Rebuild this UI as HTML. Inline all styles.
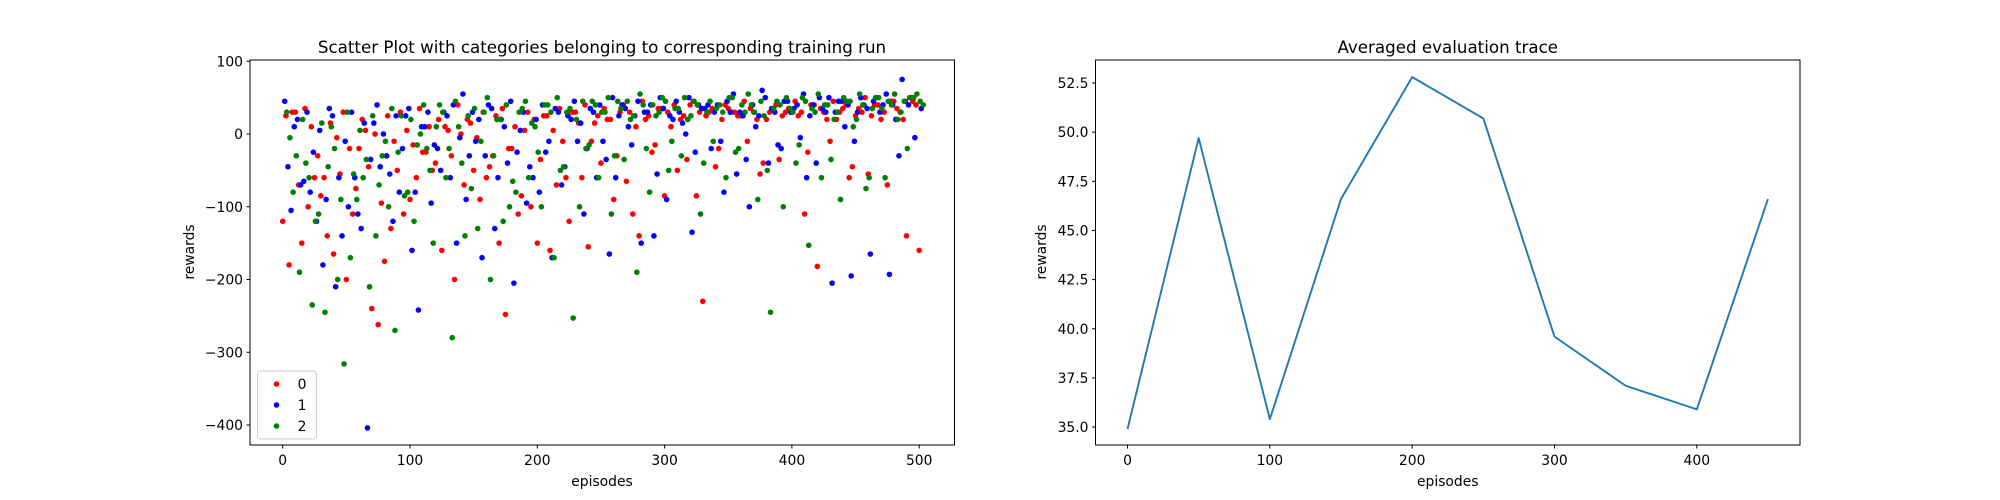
<!DOCTYPE html>
<html><head><meta charset="utf-8"><style>
body{margin:0;background:#fff;}
svg{display:block;font-family:"DejaVu Sans","Liberation Sans",sans-serif;}
</style></head><body>
<svg id="fig" width="2000" height="500" viewBox="0 0 2000 500">
<rect width="2000" height="500" fill="#fff"/>
<g id="left"></g>
<g id="right"></g>
</svg>
<script>
const redY=[-120,-180,30,-150,-100,-60,-85,-140,-165,-55,-200,-110,-20,5,-240,-262,-175,-130,-50,-110,-90,-60,-25,10,-40,-160,5,-200,0,20,-50,-90,-60,-30,-150,-248,-20,-110,5,-100,-150,25,-160,-70,-10,-120,30,-60,-155,15,-40,20,-90,30,-65,-110,-140,20,-25,35,-85,10,-50,25,40,-85,-230,30,-45,20,35,30,25,-10,30,-55,20,35,-35,30,30,25,-110,40,-182,30,-10,20,35,-60,25,30,-55,40,20,-70,45,30,-140,45,-160];
const blueY=[45,-105,20,-65,-80,-120,-180,35,-210,-140,-100,-60,-130,-404,15,-45,-30,-120,-80,25,-160,-242,10,-95,-20,30,-60,-150,55,-30,-10,-170,40,-130,20,-40,-205,5,-95,-60,-80,-25,-170,30,-45,20,-10,-110,35,-60,-10,-165,-60,40,10,25,-150,30,-140,50,-90,20,30,0,-135,40,35,-20,40,-80,30,-55,25,-100,10,60,-40,30,-20,45,35,-5,-60,40,50,30,-205,45,10,-195,30,40,-165,50,40,-193,20,75,40,-5,35];
const greenY=[30,-80,-190,-40,-235,-110,-245,10,-200,-316,-170,-90,-60,-210,-140,-30,-100,-270,25,-80,-120,0,-20,-150,40,-60,-280,10,-140,-75,-130,30,-200,20,-120,-100,-80,35,-60,10,-100,40,-170,-50,30,-253,-100,-20,45,-60,30,-110,45,-35,20,-190,40,-80,25,50,-50,35,-30,20,45,-110,30,-10,40,-60,50,-20,30,40,-90,25,-245,45,-100,35,-40,50,-153,30,-60,40,20,-90,45,10,55,-75,35,50,-60,40,20,45,50,55,40];
const redY2=[25,30,-70,35,10,-30,-60,15,-5,30,-20,-75,20,-45,0,-95,25,-10,30,5,-15,35,-25,-50,20,10,-30,40,-70,15,-5,30,-45,25,35,-20,10,-85,30,20,-35,25,5,35,-60,30,15,40,-10,25,35,20,-30,40,30,10,45,25,-15,35,30,40,20,-35,45,30,25,35,-20,40,30,25,45,35,20,-40,30,40,25,35,45,30,-25,40,35,20,45,30,40,-45,35,50,25,40,30,45,35,20,50,40];
const blueY2=[-45,10,-70,30,-25,5,-90,25,-60,-10,30,-110,15,-35,40,0,-55,25,-20,35,-80,10,30,-15,-50,25,40,-5,-90,30,20,-30,35,-60,10,45,-25,30,-45,20,40,-10,35,-70,25,45,15,-20,30,40,-35,50,25,35,-15,45,30,40,-55,35,25,45,15,50,-25,35,40,30,-10,45,55,30,-35,40,25,50,35,-15,45,30,40,55,25,-40,35,50,30,45,40,-10,50,35,45,30,55,40,-30,45,50];
const greenY2=[-5,-30,20,-60,-120,15,-45,-20,-90,30,-55,5,-35,25,-70,-10,35,-25,-85,20,-15,40,-50,10,30,-20,45,-40,25,35,-10,50,-30,20,40,-65,30,45,15,-25,40,30,50,-45,35,20,45,-15,40,30,50,-30,35,45,25,55,-20,40,30,45,-10,35,50,25,40,-40,45,35,30,50,-25,40,55,30,45,-50,35,40,50,30,-15,45,35,55,40,-35,30,50,45,20,40,-60,50,35,45,55,30,-20,50,45];
const seriesLabels=["0","1","2"];
const leftXTicks=[0,100,200,300,400,500];
const leftYTicks=[100,0,-100,-200,-300,-400];
const evalX=[0,50,100,150,200,250,300,350,400,450];
const evalY=[34.9,49.7,35.4,46.6,52.8,50.7,39.6,37.1,35.9,46.6];
const rightXTicks=[0,100,200,300,400];
const rightYTicks=[35.0,37.5,40.0,42.5,45.0,47.5,50.0,52.5];

const NS="http://www.w3.org/2000/svg";
function mk(parent,tag,attrs,text){const e=document.createElementNS(NS,tag);for(const k in attrs)e.setAttribute(k,attrs[k]);if(text!==undefined)e.textContent=text;parent.appendChild(e);return e;}

// LEFT
const L=document.getElementById('left');
const lx=v=>282.7+v*1.273;
const ly=v=>134+(-v)*0.7275;
const colors=['#ff0000','#0000ff','#008000'];
[[redY,redY2],[blueY,blueY2],[greenY,greenY2]].forEach((pair,si)=>{
  pair.forEach((arr,k)=>{
    arr.forEach((v,i)=>{
      const c=mk(L,'circle',{cx:lx(i*5+si*1.6+k*2.5),cy:ly(v),r:2.8,fill:colors[si]});
      
      
    });
  });
});
const lf=mk(L,'rect',{x:250,y:60,width:704.5,height:385,fill:'none',stroke:'#000','stroke-width':1});


leftXTicks.forEach(t=>{
  const x=lx(t);mk(L,'line',{x1:x,x2:x,y1:445,y2:448.5,stroke:'#000'});
  const tx=mk(L,'text',{x:x,y:465,'font-size':13.9,'text-anchor':'middle'},String(t));
  
  
});
leftYTicks.forEach(t=>{
  const y=ly(t);mk(L,'line',{x1:246.5,x2:250,y1:y,y2:y,stroke:'#000'});
  const tx=mk(L,'text',{x:243,y:y+5,'font-size':13.9,'text-anchor':'end'},String(t).replace('-','\u2212'));
  
  
});
let t1=mk(L,'text',{x:602,y:53,'font-size':16.7,'text-anchor':'middle'},'Scatter Plot with categories belonging to corresponding training run');

let xl1=mk(L,'text',{x:602,y:486,'font-size':13.9,'text-anchor':'middle'},'episodes');

let yl1=mk(L,'text',{x:0,y:0,'font-size':13.9,'text-anchor':'middle',transform:'translate(194,252) rotate(-90)'},'rewards');

const lg=mk(L,'g',{});

mk(lg,'rect',{x:257.5,y:371,width:59,height:68,rx:3,fill:'#fff','fill-opacity':0.8,stroke:'#ccc'});
seriesLabels.forEach((s,i)=>{
  const y=384+i*21;
  const g=mk(lg,'g',{});
  
  
  mk(g,'circle',{cx:276.5,cy:y,r:2.8,fill:colors[i]});
  mk(g,'text',{x:302,y:y+5,'font-size':13.9,'text-anchor':'middle'},s);
});

// RIGHT
const R=document.getElementById('right');
const rx0=1095.5,rw=704.5;
const rx=v=>rx0+(v+22.5)/495*rw;
const ry=v=>60+(53.67-v)*19.66;
const pts=evalX.map((x,i)=>rx(x)+','+ry(evalY[i])).join(' ');
const pl=mk(R,'polyline',{points:pts,fill:'none',stroke:'#1f77b4','stroke-width':1.9,'stroke-linejoin':'round'});


const rf=mk(R,'rect',{x:rx0,y:60,width:rw,height:385,fill:'none',stroke:'#000','stroke-width':1});


rightXTicks.forEach(t=>{
  const x=rx(t);mk(R,'line',{x1:x,x2:x,y1:445,y2:448.5,stroke:'#000'});
  const tx=mk(R,'text',{x:x,y:465,'font-size':13.9,'text-anchor':'middle'},String(t));
  
  
});
rightYTicks.forEach(t=>{
  const y=ry(t);mk(R,'line',{x1:rx0-3.5,x2:rx0,y1:y,y2:y,stroke:'#000'});
  const tx=mk(R,'text',{x:rx0-7,y:y+5,'font-size':13.9,'text-anchor':'end'},t.toFixed(1));
  
  
});
let t2=mk(R,'text',{x:rx0+rw/2,y:53,'font-size':16.7,'text-anchor':'middle'},'Averaged evaluation trace');

let xl2=mk(R,'text',{x:rx0+rw/2,y:486,'font-size':13.9,'text-anchor':'middle'},'episodes');

let yl2=mk(R,'text',{x:0,y:0,'font-size':13.9,'text-anchor':'middle',transform:'translate(1046,252) rotate(-90)'},'rewards');

</script>
</body></html>
